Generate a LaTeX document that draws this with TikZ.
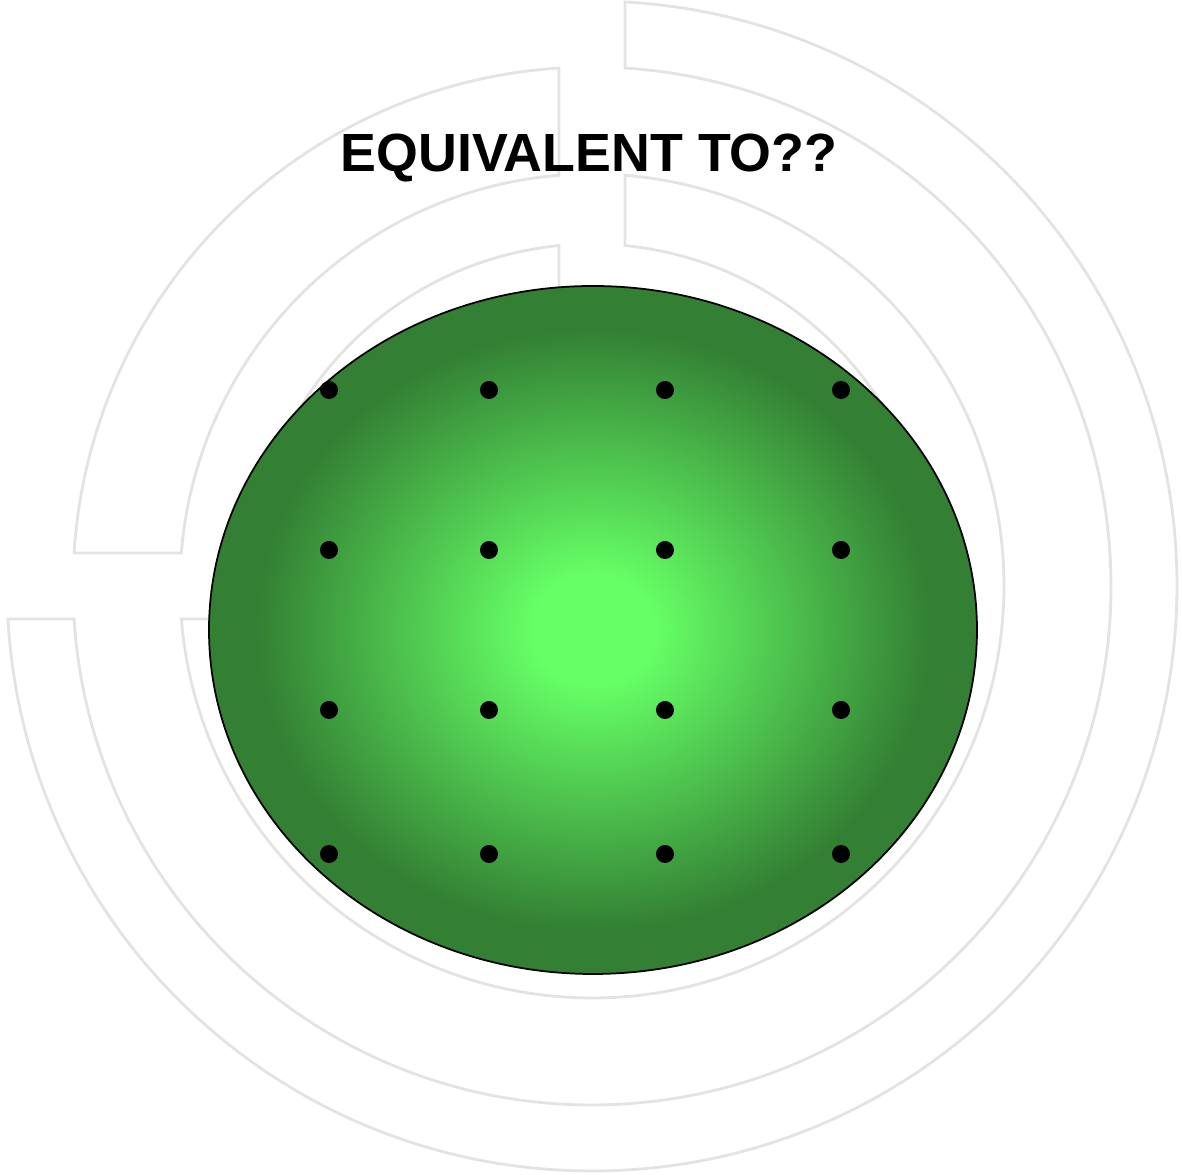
\documentclass[tikz,border=0pt]{standalone}
\usepackage{fontspec}
\setmainfont{Liberation Sans}
\usepackage{tikz}
\usetikzlibrary{positioning}

\definecolor{glowlight}{HTML}{66FF66}
\definecolor{glowdark}{HTML}{337F33}
\definecolor{ringgray}{HTML}{E3E3E3}
\pgfdeclareradialshading{greenglow}{\pgfpoint{0bp}{0bp}}{%
  color(0bp)=(glowlight); color(4bp)=(glowlight);
  color(22bp)=(glowdark); color(50bp)=(glowdark)}

\begin{document}
\begin{tikzpicture}[
  ring/.style={draw=ringgray, line width=0.8pt, fill=white},
  dot/.style={circle, fill=black, inner sep=0pt, minimum size=0.18cm},
  title/.style={font=\fontsize{15.3}{18}\selectfont\bfseries, inner sep=0pt}
]
\useasboundingbox (0,0) rectangle (11.82,11.75);

% ring segments round the centre
\begin{scope}[shift={(5.92,5.89)}]
\draw[ring] ({90-asin(0.33/5.85)}:5.85) arc[start angle={90-asin(0.33/5.85)}, end angle={-180+asin(0.33/5.85)}, radius=5.85]
  -- ({-180+asin(0.33/5.19)}:5.19) arc[start angle={-180+asin(0.33/5.19)}, end angle={90-asin(0.33/5.19)}, radius=5.19] -- cycle;
\draw[ring] ({90+asin(0.33/5.19)}:5.19) arc[start angle={90+asin(0.33/5.19)}, end angle={180-asin(0.33/5.19)}, radius=5.19]
  -- ({180-asin(0.33/4.12)}:4.12) arc[start angle={180-asin(0.33/4.12)}, end angle={90+asin(0.33/4.12)}, radius=4.12] -- cycle;
\draw[ring] ({90-asin(0.33/4.12)}:4.12) arc[start angle={90-asin(0.33/4.12)}, end angle={-180+asin(0.33/4.12)}, radius=4.12]
  -- ({-180+asin(0.33/3.42)}:3.42) arc[start angle={-180+asin(0.33/3.42)}, end angle={90-asin(0.33/3.42)}, radius=3.42] -- cycle;
\draw[ring] ({90+asin(0.33/3.42)}:3.42) arc[start angle={90+asin(0.33/3.42)}, end angle={180-asin(0.33/3.42)}, radius=3.42]
  -- ({180-asin(0.33/2.72)}:2.72) arc[start angle={180-asin(0.33/2.72)}, end angle={90+asin(0.33/2.72)}, radius=2.72] -- cycle;
\end{scope}

% green disc
\draw[black, line width=0.5pt, shading=greenglow] (5.93,5.45) ellipse [x radius=3.84, y radius=3.44];

% grid of dots
\foreach \row/\y in {1/7.85, 2/6.25, 3/4.65, 4/3.21}
  \foreach \col/\x in {1/3.29, 2/4.89, 3/6.65, 4/8.41}
    \node[dot] (d\row\col) at (\x,\y) {};

\node[title, anchor=base] (heading) at (5.89,10.03) {EQUIVALENT TO??};
\end{tikzpicture}
\end{document}
